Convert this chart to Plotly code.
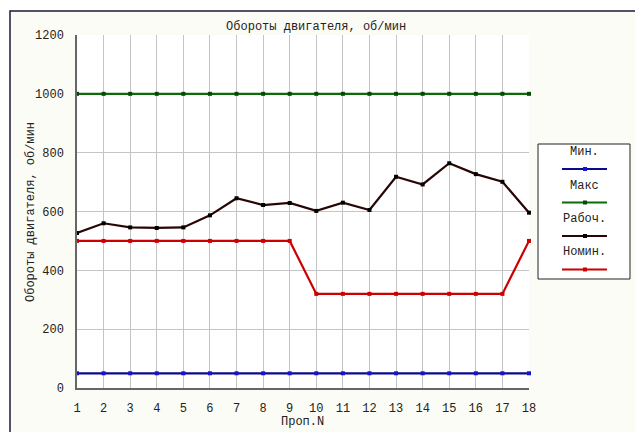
import plotly.graph_objects as go

# ---- data ----
prop_n = list(range(1, 19))
x_tick_labels = [str(i) for i in prop_n]
y_tick_values = [0, 200, 400, 600, 800, 1000, 1200]

series_names = ["Мин.", "Макс", "Рабоч.", "Номин."]
min_rpm = [50] * 18
max_rpm = [1000] * 18
work_rpm = [527, 560, 546, 544, 546, 587, 645, 622, 629, 602, 630, 605, 718, 692, 764, 727, 701, 596]
nom_rpm = [500, 500, 500, 500, 500, 500, 500, 500, 500, 320, 320, 320, 320, 320, 320, 320, 320, 500]

line_colors = ["#0a0a8c", "#0b6b0b", "#2a0505", "#cc0000"]
marker_colors = ["#1515d0", "#064a06", "#000000", "#d00000"]

FONT = "Liberation Mono, Courier New, monospace"
W, H = 635, 432
L, R, T, B = 77, 106, 35, 44
PW, PH = W - L - R, H - T - B


def px(x):
    return (x - L) / PW


def py(y):
    return (H - B - y) / PH


fig = go.Figure()
for name, vals, lc, mc in zip(series_names, [min_rpm, max_rpm, work_rpm, nom_rpm], line_colors, marker_colors):
    fig.add_trace(go.Scatter(
        x=prop_n, y=vals, name=name, mode="lines+markers",
        line=dict(color=lc, width=2.2),
        marker=dict(symbol="square", size=4, color=mc),
        showlegend=False, cliponaxis=False,
    ))

shapes = []
# outer frame
shapes.append(dict(type="rect", xref="paper", yref="paper", layer="below",
                   x0=px(10), x1=px(640), y0=py(440), y1=py(11),
                   line=dict(color="#1a1a3a", width=1.5), fillcolor="#fcfcf6"))
# plot area background
shapes.append(dict(type="rect", xref="paper", yref="paper", layer="below",
                   x0=0, x1=1, y0=0, y1=1, line=dict(width=0), fillcolor="#ffffff"))
# legend box
shapes.append(dict(type="rect", xref="paper", yref="paper",
                   x0=px(538), x1=px(630), y0=py(279), y1=py(144),
                   line=dict(color="#222222", width=1), fillcolor="#ffffff"))
annotations = []
for i, (name, lc, mc) in enumerate(zip(series_names, line_colors, marker_colors)):
    ty = 152 + 33.5 * i
    ly = 169 + 33.5 * i
    annotations.append(dict(xref="paper", yref="paper", x=px(584), y=py(ty),
                            text=name, showarrow=False, xanchor="center", yanchor="middle",
                            font=dict(family=FONT, size=12, color="#222222")))
    shapes.append(dict(type="line", xref="paper", yref="paper",
                       x0=px(562), x1=px(607), y0=py(ly), y1=py(ly),
                       line=dict(color=lc, width=2.2)))
    shapes.append(dict(type="rect", xref="paper", yref="paper",
                       x0=px(583), x1=px(587), y0=py(ly + 2), y1=py(ly - 2),
                       line=dict(width=0), fillcolor=mc))

# x-axis title
annotations.append(dict(xref="paper", yref="paper", x=px(302), y=py(422),
                        text="Проп.N", showarrow=False, xanchor="center", yanchor="middle",
                        font=dict(family=FONT, size=12, color="#222222")))
# y-axis title
annotations.append(dict(xref="paper", yref="paper", x=px(31), y=py(212),
                        text="Обороты двигателя, об/мин", showarrow=False, textangle=-90,
                        xanchor="center", yanchor="middle",
                        font=dict(family=FONT, size=12, color="#222222")))

fig.update_layout(
    width=W, height=H,
    margin=dict(l=L, r=R, t=T, b=B, pad=0),
    paper_bgcolor="#ffffff", plot_bgcolor="rgba(0,0,0,0)",
    title=dict(text="Обороты двигателя, об/мин", x=px(302), xanchor="center",
               y=1 - 26 / H, yanchor="middle",
               font=dict(family=FONT, size=12, color="#222222")),
    shapes=shapes, annotations=annotations,
    showlegend=False,
    xaxis=dict(range=[1, 18], tickvals=prop_n, ticktext=x_tick_labels,
               showgrid=True, gridcolor="#c4c4c4", gridwidth=1,
               showline=True, linecolor="#666666", linewidth=1.5, mirror=False,
               zeroline=False, ticks="", ticklabelstandoff=8,
               tickfont=dict(family=FONT, size=12, color="#222222")),
    yaxis=dict(range=[0, 1200], tickvals=y_tick_values,
               showgrid=True, gridcolor="#c4c4c4", gridwidth=1,
               showline=True, linecolor="#666666", linewidth=1.5,
               zeroline=False, ticks="", ticklabelstandoff=9,
               tickfont=dict(family=FONT, size=12, color="#222222")),
)

fig.write_html("out.html", config={"displayModeBar": False},
               post_script="document.body.style.margin='0';document.body.style.padding='0';document.body.style.overflow='hidden';")
